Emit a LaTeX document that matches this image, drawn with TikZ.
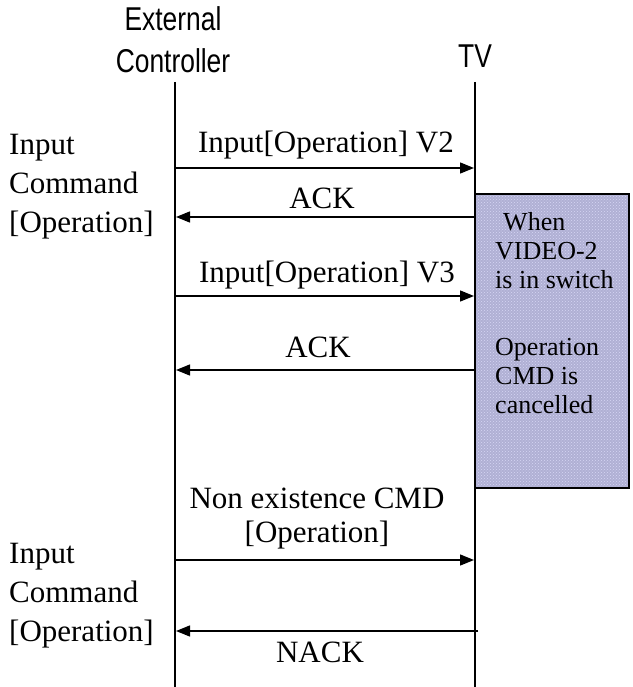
\documentclass[tikz,border=0pt]{standalone}
\usepackage{fontspec}
\setmainfont{Liberation Serif}
\newfontfamily\hdrfont[FakeStretch=0.8]{Liberation Sans}
\usetikzlibrary{arrows.meta,patterns}
\definecolor{boxfill}{RGB}{176,176,212}
\definecolor{dotcol}{RGB}{214,214,244}
\tikzset{
  lbl/.style={inner sep=0pt,font=\fontsize{31}{38}\selectfont},
  hdr/.style={inner sep=0pt,font=\hdrfont\fontsize{33}{42}\selectfont,align=center},
  side/.style={inner sep=0pt,anchor=west,font=\fontsize{31}{39}\selectfont,align=left},
  boxtxt/.style={inner sep=0pt,anchor=west,font=\fontsize{26}{29}\selectfont,align=left},
  life/.style={line width=1.3pt},
  msg/.style={line width=1.4pt,-{Triangle[length=14pt,width=11pt]}}
}
\begin{document}
\begin{tikzpicture}[x=1pt,y=-1pt]
\useasboundingbox (0,0) rectangle (632,687);
% shaded box
\fill[boxfill] (475,194) rectangle (629,488);
\fill[pattern=crosshatch dots,pattern color=dotcol] (475,194) rectangle (629,488);
\draw[line width=1.3pt] (475,194) rectangle (629,488);
% headers
\node[hdr] (ext) at (173,40) {External\\Controller};
\node[hdr] (tv) at (475,56) {TV};
% lifelines
\coordinate (lt) at (175,82);
\coordinate (lb) at (175,687);
\coordinate (rt) at (475,82);
\coordinate (rb) at (475,687);
\draw[life] (lt) -- (lb);
\draw[life] (rt) -- (rb);
% messages
\coordinate (a1s) at (175,168); \coordinate (a1e) at (474,168);
\coordinate (a2s) at (475,217); \coordinate (a2e) at (176,217);
\coordinate (a3s) at (175,296); \coordinate (a3e) at (474,296);
\coordinate (a4s) at (475,370); \coordinate (a4e) at (176,370);
\coordinate (a5s) at (175,560); \coordinate (a5e) at (474,560);
\coordinate (a6s) at (478,631); \coordinate (a6e) at (176,631);
\draw[msg] (a1s) -- (a1e);
\draw[msg] (a2s) -- (a2e);
\draw[msg] (a3s) -- (a3e);
\draw[msg] (a4s) -- (a4e);
\draw[msg] (a5s) -- (a5e);
\draw[msg] (a6s) -- (a6e);
% message labels
\node[lbl] (t1) at (326,145) {Input[Operation] V2};
\node[lbl] (t2) at (322,198) {ACK};
\node[lbl] (t3) at (327,275) {Input[Operation] V3};
\node[lbl] (t4) at (318,347) {ACK};
\node[lbl] (t5a) at (317,498) {Non existence CMD};
\node[lbl] (t5b) at (317,535) {[Operation]};
\node[lbl] (t6) at (320,652) {NACK};
% side labels
\node[side] (s1) at (9,187) {Input\\Command\\{[Operation]}};
\node[side] (s2) at (9,596) {Input\\Command\\{[Operation]}};
% box text
\node[boxtxt] (b1) at (495,251) {\hspace*{8pt}When\\VIDEO-2\\is in switch};
\node[boxtxt] (b2) at (495,376) {Operation\\CMD is\\cancelled};
\end{tikzpicture}
\end{document}
